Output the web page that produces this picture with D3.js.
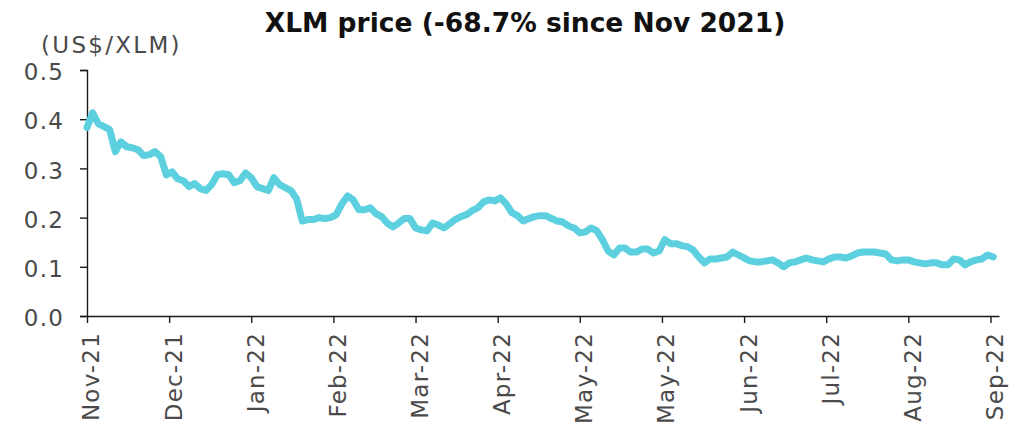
<!DOCTYPE html>
<html>
<head>
<meta charset="utf-8">
<script src="https://cdn.jsdelivr.net/npm/d3@7"></script>
<style>
  body { margin: 0; background: #fff; }
  svg { display: block; }
</style>
</head>
<body>
<div id="chart"></div>
<script>
// XLM price, sampled every 2 days from 9 Nov 2021
var startDay = "2021-11-09";
var endDay = "2022-09-26";
var xlmPrice = [
  0.383, 0.413, 0.391, 0.385, 0.379, 0.334, 0.354, 0.344, 0.342, 0.338,
  0.326, 0.328, 0.334, 0.324, 0.287, 0.293, 0.279, 0.275, 0.263, 0.269,
  0.259, 0.255, 0.267, 0.287, 0.289, 0.287, 0.271, 0.275, 0.291, 0.281,
  0.263, 0.259, 0.255, 0.281, 0.267, 0.261, 0.255, 0.238, 0.193, 0.196,
  0.196, 0.200, 0.198, 0.200, 0.206, 0.228, 0.244, 0.236, 0.216, 0.216,
  0.220, 0.208, 0.202, 0.189, 0.181, 0.189, 0.198, 0.198, 0.179, 0.175,
  0.173, 0.189, 0.185, 0.179, 0.187, 0.196, 0.202, 0.206, 0.214, 0.220,
  0.232, 0.236, 0.234, 0.240, 0.228, 0.210, 0.204, 0.193, 0.198, 0.202,
  0.204, 0.204, 0.198, 0.193, 0.191, 0.183, 0.179, 0.169, 0.171, 0.179,
  0.173, 0.155, 0.132, 0.124, 0.138, 0.138, 0.130, 0.130, 0.136, 0.136,
  0.128, 0.132, 0.155, 0.147, 0.147, 0.143, 0.141, 0.134, 0.120, 0.108,
  0.116, 0.116, 0.118, 0.120, 0.130, 0.124, 0.118, 0.112, 0.110, 0.110,
  0.112, 0.114, 0.108, 0.100, 0.108, 0.110, 0.114, 0.118, 0.114, 0.112,
  0.110, 0.116, 0.120, 0.120, 0.118, 0.122, 0.128, 0.130, 0.130, 0.130,
  0.128, 0.126, 0.114, 0.112, 0.114, 0.114, 0.110, 0.108, 0.106, 0.108,
  0.108, 0.104, 0.104, 0.116, 0.114, 0.104, 0.110, 0.114, 0.116, 0.124,
  0.120
];
// axis ticks (every 29 days, as in the original)
var tickDays = ["2021-11-09", "2021-12-08", "2022-01-06", "2022-02-04", "2022-03-05", "2022-04-03",
                "2022-05-02", "2022-05-31", "2022-06-29", "2022-07-28", "2022-08-26", "2022-09-24"];
var yTicks = [0, 0.1, 0.2, 0.3, 0.4, 0.5];

var titleText = "XLM price (-68.7% since Nov 2021)";
var unitText = "(US$/XLM)";

var width = 1023, height = 433;
var margin = {top: 70, left: 87, bottom: 117, right: 24};

var parse = d3.timeParse("%Y-%m-%d");
var start = parse(startDay);
var dates = d3.timeDay.range(start, d3.timeDay.offset(start, 2 * xlmPrice.length), 2);
var data = xlmPrice.map((v, i) => ({date: dates[i], value: v}));

var svg = d3.select("#chart").append("svg")
    .attr("width", width)
    .attr("height", height);

var x = d3.scaleTime()
    .domain([start, d3.timeDay.offset(parse(endDay), 1)])
    .range([margin.left, width - margin.right]);

var y = d3.scaleLinear()
    .domain([0, 0.5])
    .range([height - margin.bottom, margin.top]);

var font = "'DejaVu Sans', sans-serif";
var axisColor = "#1a1a1a";
var labelColor = "#4a4a4a";

// title
svg.append("text")
    .attr("x", 525)
    .attr("y", 32)
    .attr("text-anchor", "middle")
    .style("font-family", font)
    .style("font-weight", "bold")
    .style("font-size", "26.5px")
    .style("fill", "#111")
    .text(titleText);

// unit label
svg.append("text")
    .attr("x", 41)
    .attr("y", 53)
    .style("font-family", font)
    .style("font-size", "23px")
    .style("letter-spacing", "2.3px")
    .style("fill", labelColor)
    .text(unitText);

// y axis
var yAxis = svg.append("g")
    .attr("transform", "translate(" + margin.left + ",0)")
    .call(d3.axisLeft(y).tickValues(yTicks).tickFormat(d3.format(".1f")).tickSize(7).tickPadding(16));

// x axis
var xAxis = svg.append("g")
    .attr("transform", "translate(0," + y(0) + ")")
    .call(d3.axisBottom(x).tickValues(tickDays.map(parse)).tickFormat(d3.timeFormat("%b-%y")).tickSize(7).tickSizeOuter(0));

[yAxis, xAxis].forEach(g => {
  g.select(".domain").attr("stroke", axisColor).attr("stroke-width", 1.4);
  g.selectAll(".tick line").attr("stroke", axisColor).attr("stroke-width", 1.4);
  g.selectAll("text")
    .style("font-family", font)
    .style("font-size", "23px")
    .style("letter-spacing", "1.2px")
    .style("fill", labelColor);
});

yAxis.selectAll("text").attr("dy", "0.42em");

xAxis.selectAll("text")
    .attr("text-anchor", "end")
    .attr("transform", "rotate(-90)")
    .attr("x", -16)
    .attr("y", 0)
    .attr("dx", 0)
    .attr("dy", "0.52em");

// price line
var line = d3.line()
    .x(d => x(d.date))
    .y(d => y(d.value));

svg.append("path")
    .datum(data)
    .attr("d", line)
    .attr("fill", "none")
    .attr("stroke", "#5dd0df")
    .attr("stroke-width", 7)
    .attr("stroke-linejoin", "round")
    .attr("stroke-linecap", "round");
</script>
</body>
</html>
